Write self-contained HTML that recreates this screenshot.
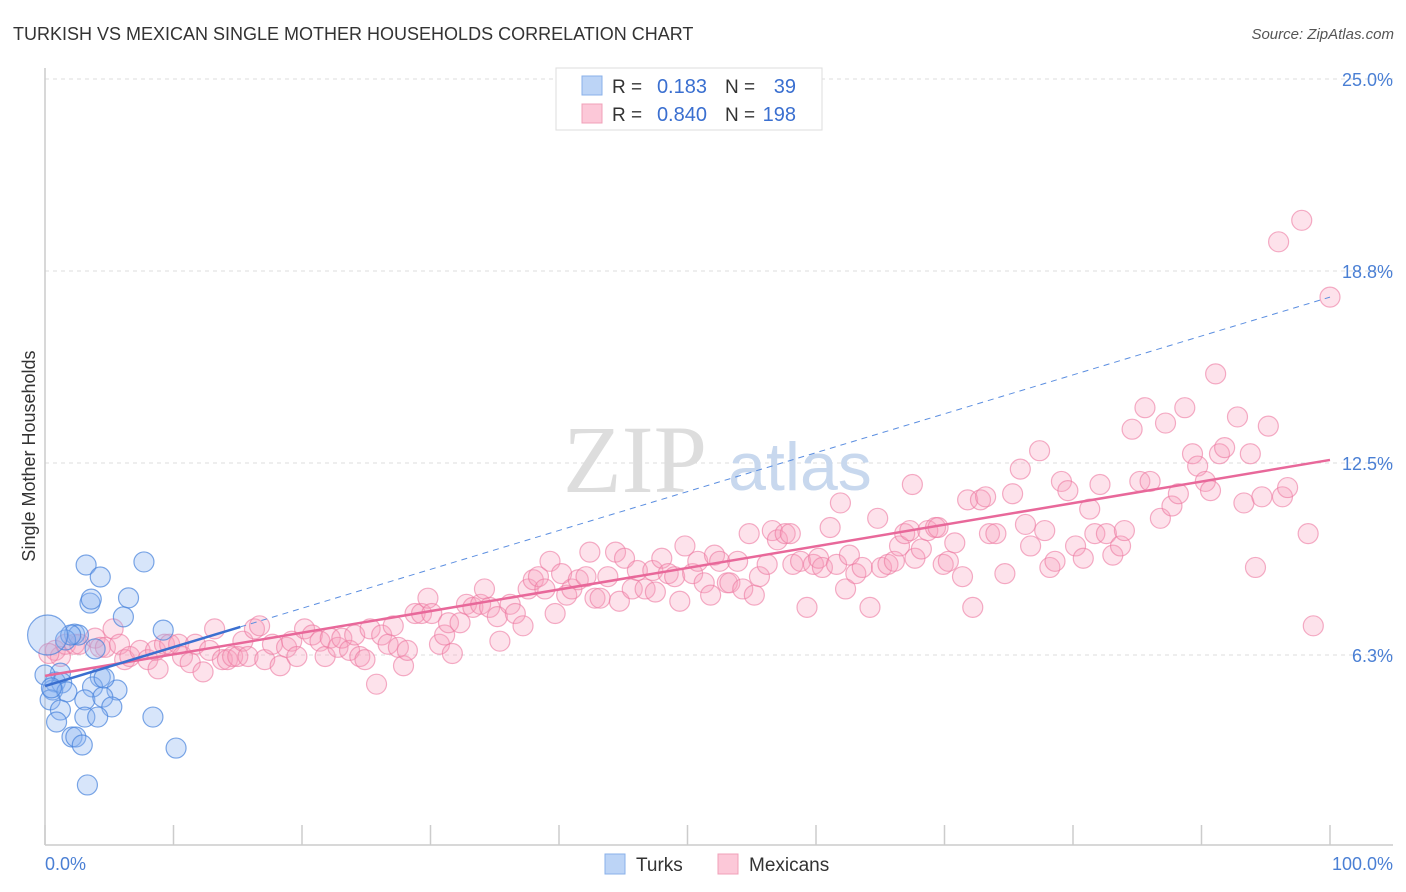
<!DOCTYPE html>
<html><head><meta charset="utf-8"><style>
body{margin:0;background:#fff;font-family:"Liberation Sans",sans-serif}
svg{display:block}
</style></head><body>
<svg id="chart" width="1406" height="892" xmlns="http://www.w3.org/2000/svg">
<text x="13" y="40" font-size="18" fill="#333">TURKISH VS MEXICAN SINGLE MOTHER HOUSEHOLDS CORRELATION CHART</text>
<text x="1394" y="39" font-size="15" fill="#555" font-style="italic" text-anchor="end">Source: ZipAtlas.com</text>
<g id="grid"></g>
<text x="635" y="492" font-size="96" fill="#ddd" font-family="Liberation Serif" text-anchor="middle">ZIP</text>
<text x="800" y="490" font-size="68" fill="#c8d8ee" text-anchor="middle">atlas</text>
<line x1="45" y1="68" x2="45" y2="845" stroke="#ccc" stroke-width="1.5"/>
<line x1="45" y1="845" x2="1393" y2="845" stroke="#ccc" stroke-width="1.5"/>
<g id="ticks"></g>
<g id="mex"></g>
<g id="turk"></g>
<g id="trends"></g>
<text x="35" y="456" font-size="18" fill="#333" text-anchor="middle" transform="rotate(-90 35 456)">Single Mother Households</text>
<text x="45" y="870" font-size="18" fill="#4a7fd4">0.0%</text>
<text x="1393" y="870" font-size="18" fill="#4a7fd4" text-anchor="end">100.0%</text>
<g>
<rect x="556" y="68" width="266" height="62" fill="#fff" stroke="#ddd"/>
<rect x="582" y="76" width="20" height="19" fill="#bcd4f6" stroke="#8ab0ea"/>
<rect x="582" y="104" width="20" height="19" fill="#fcc8d8" stroke="#f0a0b8"/>
<text x="612" y="93" font-size="19" fill="#333">R =</text>
<text x="707" y="93" font-size="20" fill="#3a6fd0" text-anchor="end">0.183</text>
<text x="725" y="93" font-size="19" fill="#333">N =</text>
<text x="796" y="93" font-size="20" fill="#3a6fd0" text-anchor="end">39</text>
<text x="612" y="121" font-size="19" fill="#333">R =</text>
<text x="707" y="121" font-size="20" fill="#3a6fd0" text-anchor="end">0.840</text>
<text x="725" y="121" font-size="19" fill="#333">N =</text>
<text x="796" y="121" font-size="20" fill="#3a6fd0" text-anchor="end">198</text>
</g>
<g>
<rect x="605" y="854" width="20" height="20" fill="#bcd4f6" stroke="#8ab0ea"/>
<text x="636" y="871" font-size="19" fill="#333">Turks</text>
</g>
<g>
<rect x="718" y="854" width="20" height="20" fill="#fcc8d8" stroke="#f0a0b8"/>
<text x="749" y="871" font-size="19" fill="#333">Mexicans</text>
</g>
</svg>
<script>
const yTicks=[6.25,12.5,18.75,25];
const yTickLabels=["6.3%","12.5%","18.8%","25.0%"];
const xTicks=[0,10,20,30,40,50,60,70,80,90,100];
const turkX=[3.2,4.3,7.7,3.5,3.6,6.5,6.1,2.3,2.6,9.2,3.9,1.2,4.3,0.8,1.3,3.7,5.6,0.6,1.7,0.4,3.1,4.5,5.2,1.2,3.1,4.1,8.4,0.9,2.1,2.4,2.9,10.2,3.3,0,0.5,1.6,4.6,2.0,0.2];
const turkY=[9.18,8.79,9.28,7.94,8.07,8.11,7.49,6.93,6.9,7.06,6.45,5.66,5.53,5.37,5.34,5.21,5.11,5.11,5.05,4.79,4.79,4.88,4.56,4.46,4.23,4.23,4.23,4.07,3.58,3.58,3.32,3.22,2.02,5.6,5.18,6.74,5.5,6.9,6.9];
const mexX=[0.8,1.2,1.6,2.3,2.7,3.9,4.3,4.7,5.3,5.8,6.2,6.6,7.4,8.0,8.6,8.8,9.3,9.7,10.4,10.7,11.3,11.7,12.3,12.8,13.2,13.8,14.2,14.6,15.0,15.4,15.8,16.3,16.7,17.1,17.7,18.3,18.8,19.2,19.6,20.2,20.8,21.4,21.8,22.2,22.8,23.1,23.7,24.1,24.5,24.9,25.3,25.8,26.2,26.7,27.1,27.5,27.9,28.2,28.8,29.3,29.8,30.1,30.7,31.1,31.4,31.7,32.3,32.8,33.3,33.9,34.2,34.6,35.2,35.4,36.2,36.6,37.2,37.6,38.0,38.4,38.9,39.3,39.7,40.2,40.6,41.0,41.5,42.1,42.4,42.8,43.2,43.8,44.4,44.7,45.1,45.7,46.1,46.7,47.3,47.5,48.0,48.5,49.0,49.4,49.8,50.4,50.8,51.3,51.8,52.1,52.5,53.1,53.3,53.9,54.3,54.8,55.2,55.6,56.2,56.6,57.0,57.6,58.0,58.2,58.8,59.3,59.8,60.2,60.5,61.1,61.6,61.9,62.3,62.6,63.1,63.6,64.2,64.8,65.1,65.6,66.1,66.5,66.9,67.3,67.5,67.7,68.2,68.7,69.3,69.5,69.9,70.3,70.8,71.4,71.8,72.2,72.8,73.2,73.5,74.0,74.7,75.3,75.9,76.3,76.7,77.4,77.8,78.2,78.6,79.1,79.6,80.2,80.8,81.3,81.7,82.1,82.6,83.1,83.7,84.0,84.6,85.2,85.6,86.0,86.8,87.2,87.7,88.2,88.7,89.3,89.7,90.3,90.7,91.1,91.4,91.8,92.8,93.3,93.8,94.2,94.7,95.2,96.3,96.7,96.0,97.8,98.3,98.7,100,0.3];
const mexY=[6.4,6.2,6.6,6.6,6.6,6.8,6.5,6.5,7.1,6.6,6.1,6.2,6.4,6.1,6.4,5.8,6.6,6.6,6.6,6.2,6.0,6.6,5.7,6.4,7.1,6.1,6.1,6.2,6.2,6.7,6.2,7.1,7.2,6.1,6.6,5.9,6.5,6.7,6.2,7.1,6.9,6.7,6.2,6.8,6.5,6.8,6.4,6.9,6.2,6.1,7.1,5.3,6.9,6.6,7.2,6.5,5.9,6.4,7.6,7.6,8.1,7.6,6.6,6.9,7.3,6.3,7.3,7.9,7.8,7.9,8.4,7.8,7.5,6.7,7.9,7.6,7.2,8.4,8.7,8.8,8.4,9.3,7.6,8.9,8.2,8.4,8.7,8.8,9.6,8.1,8.1,8.8,9.6,8.0,9.4,8.4,9.0,8.4,9.0,8.3,9.4,8.9,8.8,8.0,9.8,8.9,9.3,8.6,8.2,9.5,9.3,8.6,8.6,9.3,8.4,10.2,8.2,8.8,9.2,10.3,10.0,10.2,10.2,9.2,9.3,7.8,9.2,9.4,9.1,10.4,9.2,11.2,8.4,9.5,8.9,9.1,7.8,10.7,9.1,9.2,9.3,9.8,10.2,10.3,11.8,9.4,9.7,10.3,10.4,10.4,9.2,9.3,9.9,8.8,11.3,7.8,11.3,11.4,10.2,10.2,8.9,11.5,12.3,10.5,9.8,12.9,10.3,9.1,9.3,11.9,11.6,9.8,9.4,11.0,10.2,11.8,10.2,9.5,9.8,10.3,13.6,11.9,14.3,11.9,10.7,13.8,11.1,11.5,14.3,12.8,12.4,11.9,11.6,15.4,12.8,13.0,14.0,11.2,12.8,9.1,11.4,13.7,11.4,11.7,19.7,20.4,10.2,7.2,17.9,6.3];
const turkTrend={a:5.24,b:0.1266,solidEnd:15.2};
const mexTrend={a:5.57,b:0.0703};
const NS="http://www.w3.org/2000/svg";
const X=v=>45+v*12.85;
const Y=v=>847-v*30.72;
function mk(tag,attrs,parent){const e=document.createElementNS(NS,tag);for(const k in attrs)e.setAttribute(k,attrs[k]);parent.appendChild(e);return e;}
const grid=document.getElementById('grid');
yTicks.forEach((t,i)=>{
  const l=mk('line',{x1:45,x2:1393,y1:Y(t),y2:Y(t),stroke:'#ddd','stroke-dasharray':'4,4'},grid);
  
  
  const tx=mk('text',{x:1393,y:Y(t)+7,'font-size':18,fill:'#4a7fd4','text-anchor':'end'},grid);
  tx.textContent=yTickLabels[i];
  
  
});
const ticks=document.getElementById('ticks');
xTicks.forEach(t=>{
  const l=mk('line',{x1:X(t),x2:X(t),y1:825,y2:845,stroke:'#ccc','stroke-width':1.5},ticks);
  
  
});
const mex=document.getElementById('mex');
mexX.forEach((x,i)=>{
  const c=mk('circle',{cx:X(x),cy:Y(mexY[i]),r:10,fill:'rgba(248,160,190,0.3)',stroke:'rgba(236,120,160,0.6)','stroke-width':1.2},mex);
  
  
});
const turk=document.getElementById('turk');
turkX.forEach((x,i)=>{
  const r=(i===38)?20:10;
  const c=mk('circle',{cx:X(x),cy:Y(turkY[i]),r:r,fill:'rgba(140,180,240,0.35)',stroke:'rgba(70,130,220,0.7)','stroke-width':1.2},turk);
  
  
});
const tr=document.getElementById('trends');
const ml=mk('line',{x1:X(0),y1:Y(mexTrend.a),x2:X(100),y2:Y(mexTrend.a+mexTrend.b*100),stroke:'#e8689a','stroke-width':2.5},tr);


const td=mk('line',{x1:X(turkTrend.solidEnd),y1:Y(turkTrend.a+turkTrend.b*turkTrend.solidEnd),x2:X(100),y2:Y(turkTrend.a+turkTrend.b*100),stroke:'#5b8ee0','stroke-width':1,'stroke-dasharray':'6,5'},tr);


const ts=mk('line',{x1:X(0),y1:Y(turkTrend.a),x2:X(turkTrend.solidEnd),y2:Y(turkTrend.a+turkTrend.b*turkTrend.solidEnd),stroke:'#3a6fd0','stroke-width':2.5},tr);


</script>
</body></html>
